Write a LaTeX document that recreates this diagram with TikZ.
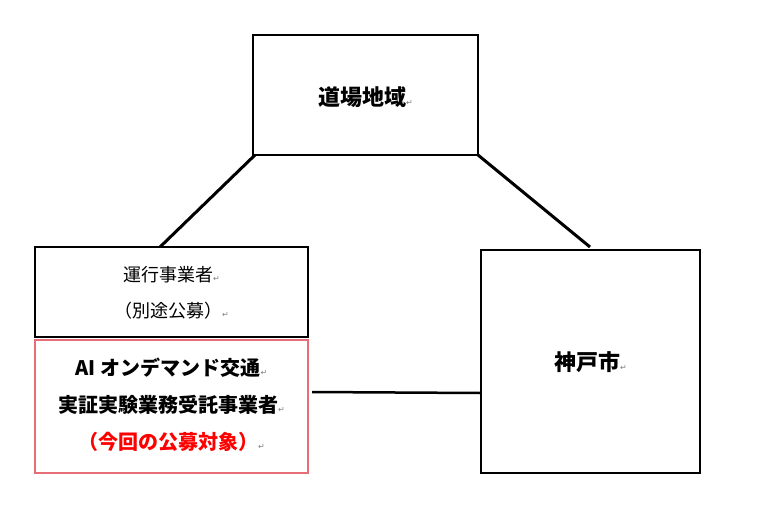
\documentclass[tikz,border=0pt]{standalone}
\usepackage{fontspec}
\setmainfont{Noto Sans CJK JP}
\newfontfamily\symf{DejaVu Sans}
\begin{document}
\begin{tikzpicture}[x=1pt,y=-1pt]
\tikzset{bx/.style={draw,line width=1.2pt}}
\newcommand{\rmark}{{\symf\mdseries\fontsize{8}{8}\selectfont\textcolor{gray}{↵}}}
\useasboundingbox (0,0) rectangle (781,509);
\draw[bx] (253,35) rectangle (478,155);
\node[font=\fontsize{22}{22}\selectfont\bfseries] (a) at (365.5,97) {道場地域\rmark};
\draw[bx] (35,247) rectangle (308,337);
\node[align=center,font=\fontsize{18}{36}\selectfont] (b) at (171.5,293) {運行事業者\rmark\\（別途公募）\rmark};
\draw[line width=1.2pt,draw={rgb,255:red,230;green,110;blue,120}] (35,340) rectangle (308,473);
\node[align=center,font=\fontsize{20}{37}\selectfont\bfseries] (c) at (171.5,405) {AI オンデマンド交通\rmark\\実証実験業務受託事業者\rmark\\\textcolor{red}{（今回の公募対象）}\rmark};
\draw[bx] (481,250) rectangle (700,473);
\node[font=\fontsize{22}{22}\selectfont\bfseries] (d) at (590.5,362) {神戸市\rmark};
\coordinate (a1) at (255,155); \coordinate (b1) at (160,247);
\coordinate (a2) at (478,155); \coordinate (d1) at (590,247);
\coordinate (c1) at (312,392); \coordinate (d2) at (481,393);
\draw[line width=3pt] (a1) -- (b1);
\draw[line width=3pt] (a2) -- (d1);
\draw[line width=2.5pt] (c1) -- (d2);
\end{tikzpicture}
\end{document}
